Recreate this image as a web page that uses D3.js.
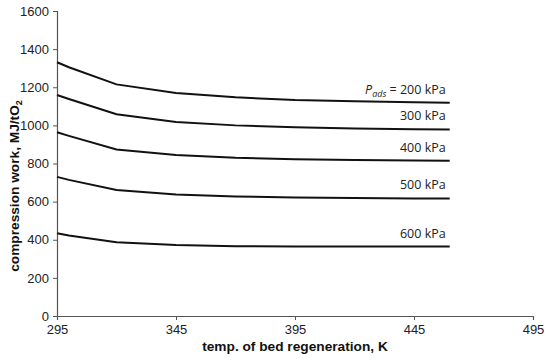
<!DOCTYPE html>
<html>
<head>
<meta charset="utf-8">
<script src="https://cdn.jsdelivr.net/npm/d3@7"></script>
<style>
	body { margin: 0; background: #fff; }
	.tick text { font-family: Arial, "Liberation Sans", sans-serif; font-size: 13px; fill: #222; }
	.axis-title { font-family: Arial, "Liberation Sans", sans-serif; font-size: 13.7px; font-weight: bold; fill: #111; }
	.curve-label { font-family: "Open Sans", "Noto Sans", sans-serif; font-size: 12.5px; fill: #222; }
</style>
</head>
<body>
<div id="chart"></div>
<script>
// regeneration temperatures, K
const temps = [295, 300, 320, 345, 370, 395, 420, 445, 460];
// compression work, MJ/tO2, one series per adsorption pressure
const work200 = [1331, 1305, 1215, 1170, 1147, 1133, 1126, 1121, 1119];
const work300 = [1159, 1138, 1058, 1018, 1000, 990, 984, 980, 979];
const work400 = [964, 945, 874, 845, 830, 822, 818, 816, 815];
const work500 = [730, 714, 661, 638, 627, 621, 619, 617, 617];
const work600 = [434, 422, 387, 372, 366, 365, 364, 364, 364];
const pressures = ['200', '300', '400', '500', '600'];
const xTicks = [295, 345, 395, 445, 495];
const yTicks = [0, 200, 400, 600, 800, 1000, 1200, 1400, 1600];

const series = [work200, work300, work400, work500, work600].map((vals, i) => ({
	pressure: pressures[i],
	points: vals.map((v, j) => [temps[j], v])
}));

const width = 550;
const height = 361;
const margin = { top: 11, right: 17, bottom: 45, left: 57 };

const svg = d3.select('#chart')
	.append('svg')
	.attr('width', width)
	.attr('height', height);

const x = d3.scaleLinear()
	.domain([295, 495])
	.range([margin.left, width - margin.right]);

const y = d3.scaleLinear()
	.domain([0, 1600])
	.range([height - margin.bottom, margin.top]);

// axes
const xAxis = svg.append('g')
	.attr('transform', `translate(0,${y(0)})`)
	.call(d3.axisBottom(x).tickValues(xTicks).tickFormat(d3.format('d')).tickSize(4).tickPadding(5));

const yAxis = svg.append('g')
	.attr('transform', `translate(${x(295)},0)`)
	.call(d3.axisLeft(y).tickValues(yTicks).tickFormat(d3.format('d')).tickSize(4).tickPadding(4));

[xAxis, yAxis].forEach(a => {
	a.select('.domain').attr('stroke', '#555').attr('stroke-width', 1.2);
	a.selectAll('.tick line').attr('stroke', '#555');
});

// curves
const line = d3.line()
	.x(d => x(d[0]))
	.y(d => y(d[1]));

svg.append('g')
	.selectAll('path')
	.data(series)
	.enter()
	.append('path')
	.attr('d', d => line(d.points))
	.attr('fill', 'none')
	.attr('stroke', '#111')
	.attr('stroke-width', 2);

// curve labels, right aligned above the end of each curve
const labels = svg.append('g')
	.selectAll('text')
	.data(series)
	.enter()
	.append('text')
	.attr('class', 'curve-label')
	.attr('text-anchor', 'end')
	.attr('x', x(temps[temps.length - 1]) - 4)
	.attr('y', d => y(d.points[d.points.length - 1][1]) - 9);

labels.each(function(d, i) {
	const t = d3.select(this);
	if (i === 0) {
		t.append('tspan').attr('font-style', 'italic').text('P');
		t.append('tspan').attr('font-style', 'italic').attr('font-size', '9px').attr('dy', 3).text('ads');
		t.append('tspan').attr('dy', -3).text(' = ' + d.pressure + ' kPa');
	} else {
		t.text(d.pressure + ' kPa');
	}
});

// axis titles
svg.append('text')
	.attr('class', 'axis-title')
	.attr('x', 295)
	.attr('y', 351)
	.attr('text-anchor', 'middle')
	.text('temp. of bed regeneration, K');

const yTitle = svg.append('text')
	.attr('class', 'axis-title')
	.attr('text-anchor', 'middle')
	.attr('transform', `translate(19,186) rotate(-90)`);
yTitle.append('tspan').text('compression work, MJ/tO');
yTitle.append('tspan').attr('font-size', '9px').attr('dy', 3).text('2');
</script>
</body>
</html>
